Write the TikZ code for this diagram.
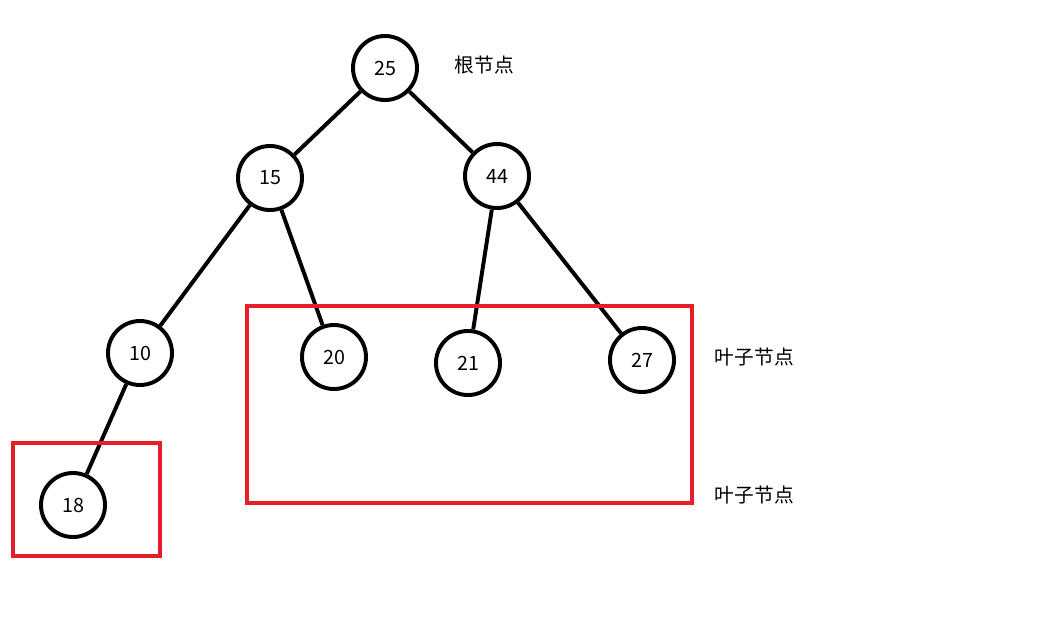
\documentclass[tikz,border=0pt]{standalone}
\usepackage{fontspec}
\setmainfont{Noto Sans CJK SC}
\usepackage{tikz}
\usetikzlibrary{positioning}

\tikzset{
  treenode/.style={circle, draw=black, line width=2.8pt, minimum size=1.6cm, inner sep=0pt, font=\fontsize{14}{16}\selectfont},
  treeedge/.style={line width=2.8pt, black},
  leafbox/.style={draw={rgb,255:red,230;green,30;blue,40}, line width=2.8pt},
  tag/.style={font=\fontsize{14}{16}\selectfont, anchor=west}
}

\begin{document}
\begin{tikzpicture}[x=0.025cm, y=-0.025cm]
    \useasboundingbox (0,0) rectangle (1054,641);
    % Nodes
    \node[treenode] (n25) at (385,68) {25};
    \node[treenode] (n15) at (270,178) {15};
    \node[treenode] (n44) at (497,176) {44};
    \node[treenode] (n10) at (140,353) {10};
    \node[treenode] (n20) at (334,357) {20};
    \node[treenode] (n21) at (468,363) {21};
    \node[treenode] (n27) at (642,360) {27};
    \node[treenode] (n18) at (73,505) {18};
    % Edges
    \draw[treeedge] (n25) -- (n15);
    \draw[treeedge] (n25) -- (n44);
    \draw[treeedge] (n15) -- (n10);
    \draw[treeedge] (n15) -- (n20);
    \draw[treeedge] (n44) -- (n21);
    \draw[treeedge] (n44) -- (n27);
    \draw[treeedge] (n10) -- (n18);
    % Leaf boxes
    \draw[leafbox] (13,443) rectangle (160,556);
    \draw[leafbox] (247,306) rectangle (692,503);
    % Labels
    \node[tag] (root) at (450,65) {根节点};
    \node[tag] (leafa) at (710,357) {叶子节点};
    \node[tag] (leafb) at (710,495) {叶子节点};
\end{tikzpicture}
\end{document}
